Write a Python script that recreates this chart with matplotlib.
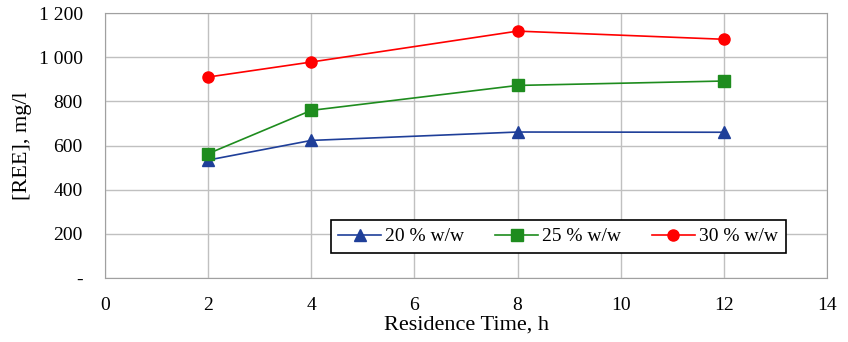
import matplotlib.pyplot as plt
from matplotlib.ticker import FuncFormatter

# Residence time (h) and REE concentration (mg/l) for each solids loading
time_h = [2, 4, 8, 12]
ree_20 = [534, 623, 661, 660]
ree_25 = [563, 759, 872, 892]
ree_30 = [910, 978, 1118, 1081]
labels = ["20 % w/w", "25 % w/w", "30 % w/w"]

FONT = 14
LABEL_SIZE = 16

plt.rcParams['font.family'] = ['Liberation Serif', 'DejaVu Serif']

fig = plt.figure(figsize=(8.48, 3.42), dpi=100)
ax = fig.add_axes([105 / 848, 1 - 278 / 342, 722 / 848, 265 / 342])

ax.plot(time_h, ree_20, color='#1f3f99', marker='^', markersize=8, lw=1.2, label=labels[0])
ax.plot(time_h, ree_25, color='#1e8c1e', marker='s', markersize=8, lw=1.2, label=labels[1])
ax.plot(time_h, ree_30, color='#ff0000', marker='o', markersize=8, lw=1.2, label=labels[2])

ax.set_xlim(0, 14)
ax.set_ylim(0, 1200)
ax.set_xticks(range(0, 15, 2))
ax.set_yticks(range(0, 1201, 200))


def fmt(v, pos):
    if v == 0:
        return "-"
    return f"{int(v):,}".replace(",", " ")


ax.yaxis.set_major_formatter(FuncFormatter(fmt))
ax.grid(True, color='#c0c0c0', lw=1)
ax.set_axisbelow(True)
for s in ax.spines.values():
    s.set_color('#a0a0a0')
ax.tick_params(length=0, labelsize=FONT)
ax.tick_params(axis='x', pad=14)
ax.tick_params(axis='y', pad=16)

ax.set_xlabel("Residence Time, h", fontsize=LABEL_SIZE, labelpad=1)
ax.set_ylabel("[REE], mg/l", fontsize=LABEL_SIZE)
ax.yaxis.set_label_coords(-0.101, 0.5)

leg = ax.legend(ncol=3, loc='lower right', bbox_to_anchor=(0.956, 0.057),
                fontsize=FONT, frameon=True, fancybox=False, edgecolor='black',
                framealpha=1, handlelength=2.2, handletextpad=0.2,
                columnspacing=1.6, borderpad=0.4)
leg.get_frame().set_linewidth(1.2)

plt.savefig('out.png', dpi=100)
